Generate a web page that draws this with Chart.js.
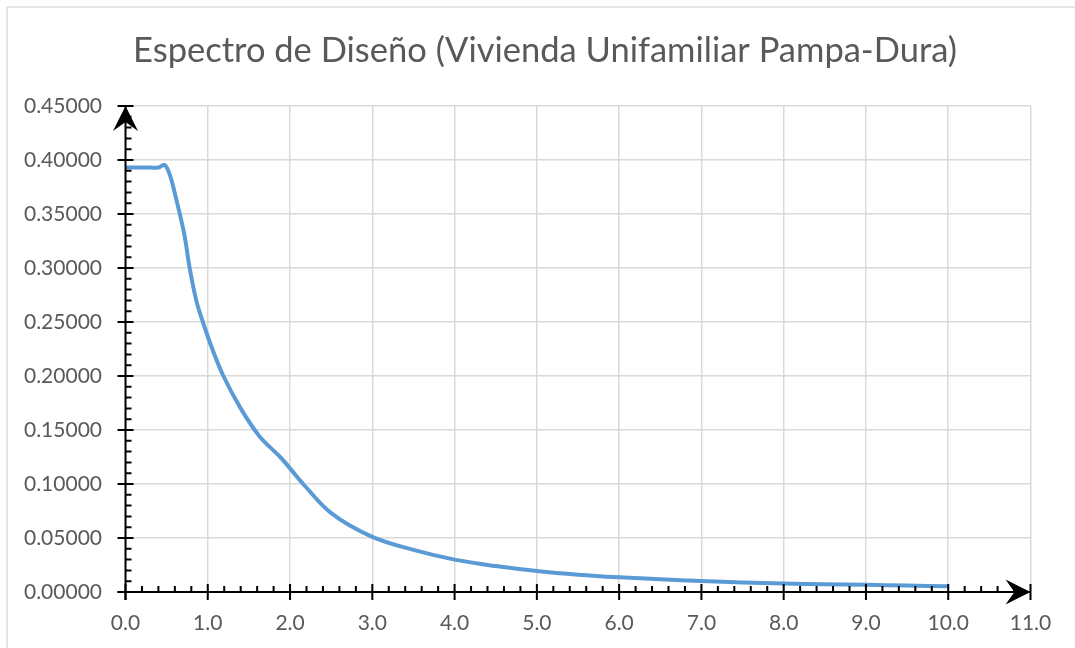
<!DOCTYPE html>
<html>
<head>
<meta charset="utf-8">
<script src="https://cdn.jsdelivr.net/npm/chart.js@4/dist/chart.umd.min.js"></script>
<style>
  html, body { margin: 0; padding: 0; background: #ffffff; }
  #wrap { width: 1075px; height: 648px; position: relative; }
  canvas { display: block; }
</style>
</head>
<body>
<div id="wrap"><canvas id="spectrum" width="1075" height="648"></canvas></div>
<script>
// Period T (s) and spectral acceleration Sa (g) of the design spectrum
const periodT = [0, 0.1, 0.2, 0.3, 0.4, 0.475, 0.54, 0.60, 0.66, 0.72, 0.78, 0.86, 0.94, 1.06, 1.19, 1.40, 1.63, 1.88, 2.0, 2.16, 2.5, 3.0, 3.5, 4.0, 4.5, 5.0, 5.5, 6.0, 6.5, 7.0, 7.5, 8.0, 8.5, 9.0, 9.5, 10.0];
const spectralSa = [0.393, 0.393, 0.393, 0.393, 0.393, 0.3955, 0.386, 0.369, 0.350, 0.329, 0.300, 0.270, 0.250, 0.224, 0.200, 0.170, 0.144, 0.125, 0.1145, 0.100, 0.073, 0.051, 0.039, 0.030, 0.024, 0.0194, 0.016, 0.0136, 0.0118, 0.0102, 0.0088, 0.0078, 0.0072, 0.0066, 0.0060, 0.0053];

// Axis ranges and tick steps
const xRange = [0, 11];
const xMajorStep = 1;
const xMinorStep = 0.2;
const yRange = [0, 0.45];
const yMajorStep = 0.05;
const yMinorStep = 0.01;

const chartTitle = 'Espectro de Diseño (Vivienda Unifamiliar Pampa-Dura)';

const points = periodT.map((t, i) => ({ x: t, y: spectralSa[i] }));

const FONT = 'Lato, "Open Sans", "DejaVu Sans", sans-serif';
const TEXT_GREY = '#595959';
const GRID_GREY = '#d9d9d9';

// White background and the light outer frame
const framePlugin = {
  id: 'frame',
  beforeDraw(chart) {
    const ctx = chart.ctx;
    ctx.save();
    ctx.fillStyle = '#ffffff';
    ctx.fillRect(0, 0, chart.width, chart.height);
    ctx.strokeStyle = GRID_GREY;
    ctx.lineWidth = 1.3;
    ctx.strokeRect(7, 7, chart.width + 20, chart.height + 20);
    ctx.restore();
  }
};

// Black axes with crossing major ticks, inner minor ticks and arrowheads
const axesPlugin = {
  id: 'arrowAxes',
  afterDatasetsDraw(chart) {
    const ctx = chart.ctx;
    const xs = chart.scales.x;
    const ys = chart.scales.y;
    const x0 = xs.getPixelForValue(xRange[0]);
    const x1 = xs.getPixelForValue(xRange[1]);
    const y0 = ys.getPixelForValue(yRange[0]);
    const y1 = ys.getPixelForValue(yRange[1]);
    ctx.save();
    ctx.strokeStyle = '#000000';
    ctx.fillStyle = '#000000';
    ctx.lineWidth = 2;
    ctx.lineCap = 'butt';

    ctx.beginPath();
    ctx.moveTo(x0 - 8, y0);
    ctx.lineTo(x1, y0);
    ctx.moveTo(x0, y0 + 8);
    ctx.lineTo(x0, y1);
    ctx.stroke();

    // x ticks
    ctx.beginPath();
    const nx = Math.round((xRange[1] - xRange[0]) / xMinorStep);
    for (let i = 0; i <= nx; i++) {
      const v = xRange[0] + i * xMinorStep;
      const px = xs.getPixelForValue(v);
      const major = Math.abs(v / xMajorStep - Math.round(v / xMajorStep)) < 1e-6;
      if (major) {
        ctx.moveTo(px, y0 - 8);
        ctx.lineTo(px, y0 + 8);
      } else {
        ctx.moveTo(px, y0);
        ctx.lineTo(px, y0 - 6);
      }
    }
    // y ticks
    const ny = Math.round((yRange[1] - yRange[0]) / yMinorStep);
    for (let i = 0; i <= ny; i++) {
      const v = yRange[0] + i * yMinorStep;
      const py = ys.getPixelForValue(v);
      const major = Math.abs(v / yMajorStep - Math.round(v / yMajorStep)) < 1e-6;
      if (major) {
        ctx.moveTo(x0 - 8, py);
        ctx.lineTo(x0 + 8, py);
      } else {
        ctx.moveTo(x0, py);
        ctx.lineTo(x0 + 6, py);
      }
    }
    ctx.stroke();

    // arrowheads (stealth shape)
    const len = 25, half = 12.5, notch = 16;
    ctx.beginPath();
    ctx.moveTo(x1, y0);
    ctx.lineTo(x1 - len, y0 - half);
    ctx.lineTo(x1 - notch, y0);
    ctx.lineTo(x1 - len, y0 + half);
    ctx.closePath();
    ctx.fill();

    ctx.beginPath();
    ctx.moveTo(x0, y1);
    ctx.lineTo(x0 - half, y1 + len);
    ctx.lineTo(x0, y1 + notch);
    ctx.lineTo(x0 + half, y1 + len);
    ctx.closePath();
    ctx.fill();
    ctx.restore();
  }
};

new Chart(document.getElementById('spectrum'), {
  type: 'scatter',
  data: {
    datasets: [{
      label: 'Sa',
      data: points,
      showLine: true,
      borderColor: '#5b9bd5',
      backgroundColor: '#5b9bd5',
      borderWidth: 4,
      pointRadius: 0,
      pointHoverRadius: 0,
      tension: 0.35,
      fill: false
    }]
  },
  options: {
    responsive: false,
    animation: false,
    events: [],
    layout: { padding: { top: 0, left: 15, right: 0, bottom: 0 } },
    plugins: {
      legend: { display: false },
      tooltip: { enabled: false },
      title: {
        display: true,
        text: chartTitle,
        color: TEXT_GREY,
        font: { family: FONT, size: 34.5, weight: 'normal' },
        padding: { top: 30.3, bottom: 34.3 }
      }
    },
    scales: {
      x: {
        type: 'linear',
        min: xRange[0],
        max: xRange[1],
        afterFit(scale) { scale.height = 56; scale.paddingRight = 44.5; },
        border: { display: false },
        grid: { color: GRID_GREY, lineWidth: 1.5, drawTicks: false },
        ticks: {
          stepSize: xMajorStep,
          padding: 19,
          color: TEXT_GREY,
          font: { family: FONT, size: 21 },
          maxRotation: 0,
          callback: (v) => Number(v).toFixed(1)
        }
      },
      y: {
        type: 'linear',
        min: yRange[0],
        max: yRange[1],
        afterFit(scale) { scale.width = 110.5; },
        border: { display: false },
        grid: { color: GRID_GREY, lineWidth: 1.5, drawTicks: false },
        ticks: {
          stepSize: yMajorStep,
          padding: 23.5,
          color: TEXT_GREY,
          font: { family: FONT, size: 21 },
          callback: (v) => Number(v).toFixed(5)
        }
      }
    }
  },
  plugins: [framePlugin, axesPlugin]
});
</script>
</body>
</html>
